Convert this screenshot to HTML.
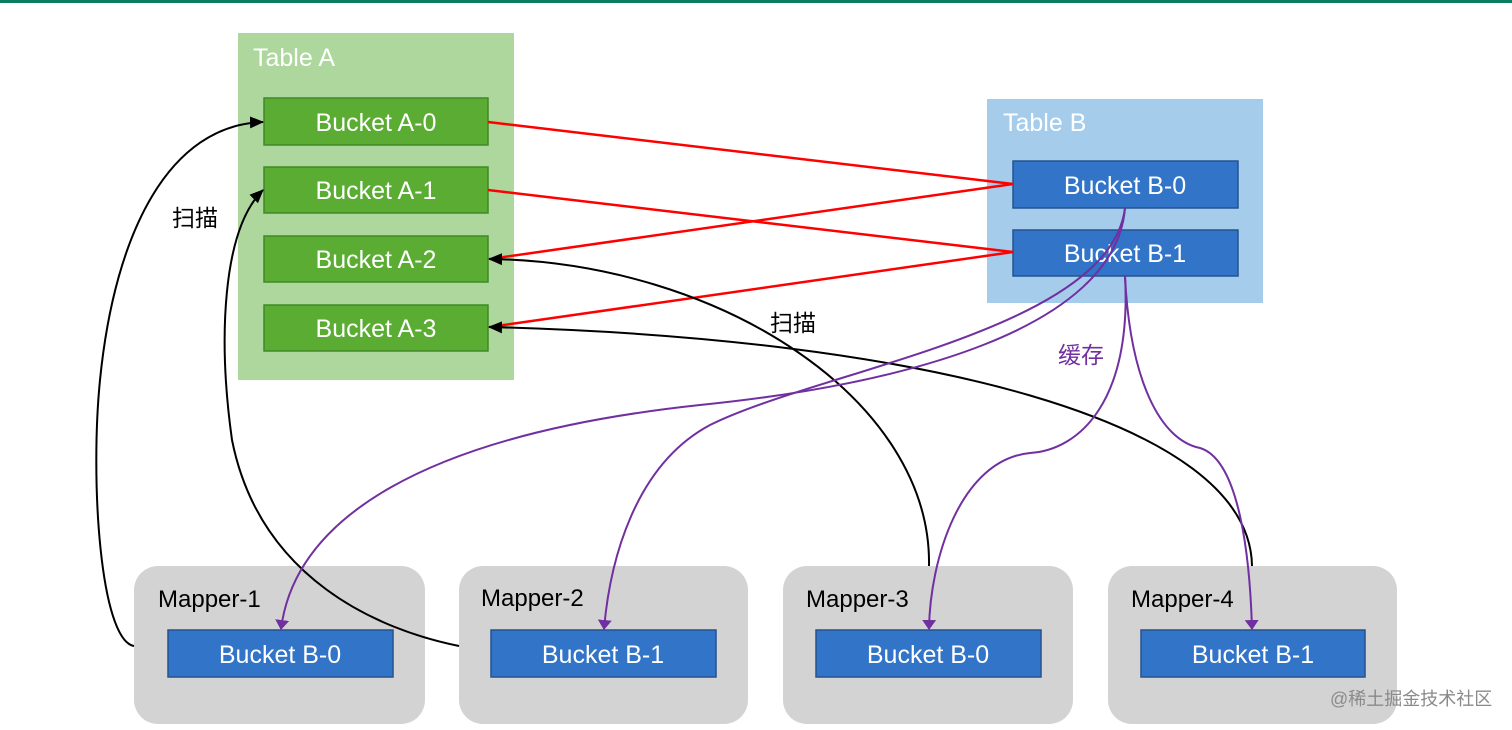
<!DOCTYPE html>
<html><head><meta charset="utf-8"><style>
html,body{margin:0;padding:0;background:#fff;width:1512px;height:730px;overflow:hidden}
svg{display:block}
text{font-family:"Liberation Sans",Arial,"Noto Sans CJK SC",sans-serif}
</style></head><body>
<svg width="1512" height="730" viewBox="0 0 1512 730" xmlns="http://www.w3.org/2000/svg">
<defs>
<marker id="ab" markerWidth="14" markerHeight="12" refX="13" refY="6" orient="auto" markerUnits="userSpaceOnUse"><path d="M0,0 L14,6 L0,12 z" fill="#000"/></marker>
<marker id="ap" markerWidth="10" markerHeight="14" refX="9" refY="7" orient="auto" markerUnits="userSpaceOnUse"><path d="M0,0 L10,7 L0,14 z" fill="#7030a0"/></marker>
</defs>
<rect x="0" y="0" width="1512" height="3" fill="#0e7c61"/>
<rect x="238" y="33" width="276" height="347" fill="#aed79e"/>
<text x="253" y="66" font-size="25" fill="#fff">Table A</text>
<g fill="#5aac33" stroke="#3f8a25" stroke-width="1.5">
<rect x="264" y="98" width="224" height="47"/>
<rect x="264" y="167" width="224" height="46"/>
<rect x="264" y="236" width="224" height="46"/>
<rect x="264" y="305" width="224" height="46"/>
</g>
<g font-size="25" fill="#fff" text-anchor="middle">
<text x="376" y="131">Bucket A-0</text>
<text x="376" y="199">Bucket A-1</text>
<text x="376" y="268">Bucket A-2</text>
<text x="376" y="337">Bucket A-3</text>
</g>
<rect x="987" y="99" width="276" height="204" fill="#a6ccec"/>
<text x="1003" y="131" font-size="25" fill="#fff">Table B</text>
<g fill="#3174c8" stroke="#24538f" stroke-width="1.5">
<rect x="1013" y="161" width="225" height="47"/>
<rect x="1013" y="230" width="225" height="46"/>
</g>
<g font-size="25" fill="#fff" text-anchor="middle">
<text x="1125" y="194">Bucket B-0</text>
<text x="1125" y="262">Bucket B-1</text>
</g>
<g fill="#d3d3d3">
<rect x="134" y="566" width="291" height="158" rx="24"/>
<rect x="459" y="566" width="289" height="158" rx="24"/>
<rect x="783" y="566" width="290" height="158" rx="24"/>
<rect x="1108" y="566" width="289" height="158" rx="24"/>
</g>
<g font-size="24" fill="#000">
<text x="158" y="607">Mapper-1</text>
<text x="481" y="606">Mapper-2</text>
<text x="806" y="607">Mapper-3</text>
<text x="1131" y="607">Mapper-4</text>
</g>
<g fill="#3174c8" stroke="#24538f" stroke-width="1.5">
<rect x="168" y="630" width="225" height="47"/>
<rect x="491" y="630" width="225" height="47"/>
<rect x="816" y="630" width="225" height="47"/>
<rect x="1141" y="630" width="224" height="47"/>
</g>
<g font-size="25" fill="#fff" text-anchor="middle">
<text x="280" y="663">Bucket B-0</text>
<text x="603" y="663">Bucket B-1</text>
<text x="928" y="663">Bucket B-0</text>
<text x="1253" y="663">Bucket B-1</text>
</g>
<g stroke="#ff0000" stroke-width="2.5" fill="none">
<line x1="488" y1="122" x2="1013" y2="184"/>
<line x1="488" y1="190" x2="1013" y2="252"/>
<line x1="1013" y1="184" x2="490" y2="259"/>
<line x1="1013" y1="252" x2="490" y2="327"/>
</g>
<g stroke="#000" stroke-width="2" fill="none" marker-end="url(#ab)">
<path d="M134,646 C100,640 90,480 100,380 C115,230 170,125 263,122"/>
<path d="M459,646 C380,630 260,580 232,440 C218,340 222,230 263,190"/>
<path d="M929,566 C932,400 720,262 489,259"/>
<path d="M1252,566 C1250,420 920,338 489,327"/>
</g>
<g stroke="#7030a0" stroke-width="2" fill="none" marker-end="url(#ap)">
<path d="M1125,208 C1115,330 900,385 700,405 C420,435 295,520 281,629"/>
<path d="M1125,208 C1110,330 820,370 710,425 C635,465 610,560 604,629"/>
<path d="M1125,276 C1132,400 1080,450 1030,453 C960,460 930,560 929,629"/>
<path d="M1125,276 C1130,380 1160,440 1200,448 C1240,460 1250,560 1252,629"/>
</g>
<g font-size="23">
<text x="172" y="226" fill="#000">扫描</text>
<text x="770" y="331" fill="#000">扫描</text>
<text x="1058" y="363" fill="#7030a0">缓存</text>
</g>
<text x="1330" y="705" font-size="18" fill="#8a8a8a">@稀土掘金技术社区</text>
</svg>
</body></html>
